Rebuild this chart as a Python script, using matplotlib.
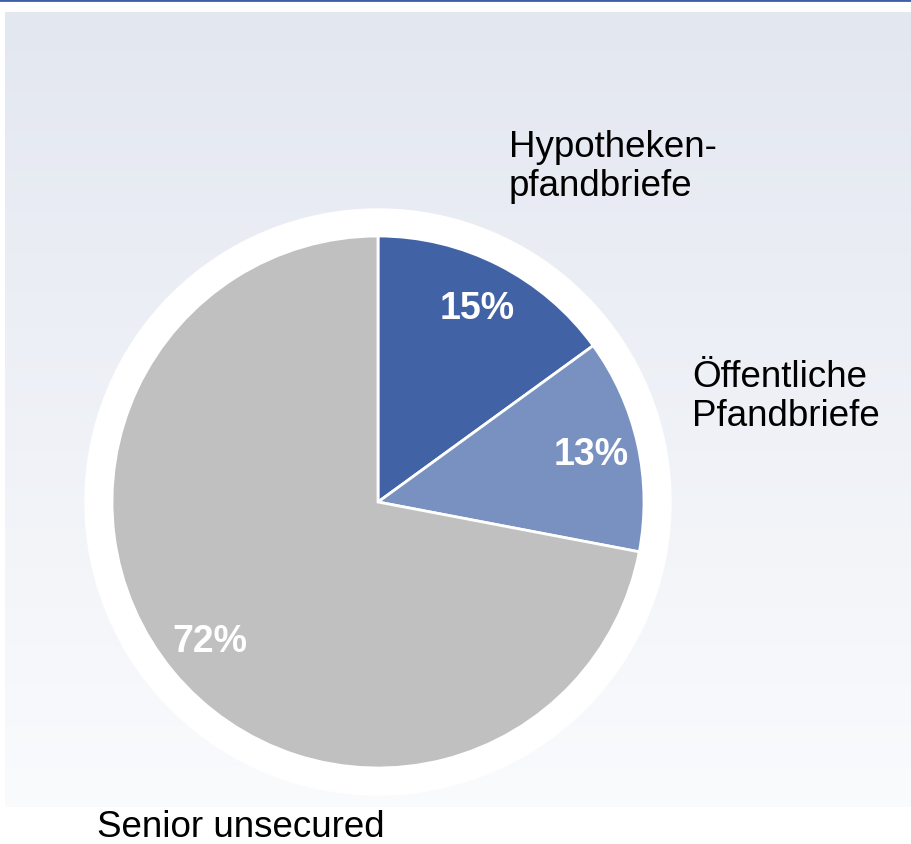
import numpy as np
import matplotlib.pyplot as plt

plt.rcParams['font.family'] = ['Liberation Sans', 'DejaVu Sans']

categories = ["Hypotheken-\npfandbriefe", "Öffentliche\nPfandbriefe", "Senior unsecured"]
shares = [15, 13, 72]
colors = ["#4163A6", "#7991C1", "#C0C0C0"]

W, H = 912, 845
fig = plt.figure(figsize=(W / 100, H / 100), dpi=100)
ax = fig.add_axes([0, 0, 1, 1])
ax.set_xlim(0, W)
ax.set_ylim(0, H)
ax.axis("off")

# gradient panel behind the chart
grad = np.linspace(0, 1, 256).reshape(-1, 1)
top = np.array([0xE3, 0xE7, 0xF0]) / 255
bot = np.array([0xFA, 0xFB, 0xFD]) / 255
img = top + (bot - top) * grad[:, :, None]
ax.imshow(img, extent=[5, W, H - 808, H - 13], aspect="auto", zorder=0)
ax.plot([0, W], [H - 1, H - 1], color="#3F5FA5", lw=2, zorder=1)

cx, cy, r = 378, H - 503, 266
ax.add_patch(plt.Circle((cx, cy), 293, color="white", zorder=1))

wedges, texts, autotexts = ax.pie(
    shares, colors=colors, startangle=90, counterclock=False,
    center=(cx, cy), radius=r, autopct="%d%%", pctdistance=0.82,
    wedgeprops=dict(edgecolor="white", linewidth=2),
    textprops=dict(color="white", fontsize=27, fontweight="bold"))
for w in wedges:
    w.set_zorder(2)
for t in autotexts:
    t.set_zorder(3)

ax.set_xlim(0, W)
ax.set_ylim(0, H)
ax.set_aspect("auto")

# last-line baselines
label_pos = [(509, H - 196), (692, H - 426), (97, H - 837)]
for lab, (x, y) in zip(categories, label_pos):
    ax.text(x, y, lab, fontsize=26.5, color="black", ha="left", va="baseline",
            linespacing=1.13, zorder=3)

fig.savefig("out.png", dpi=100)
